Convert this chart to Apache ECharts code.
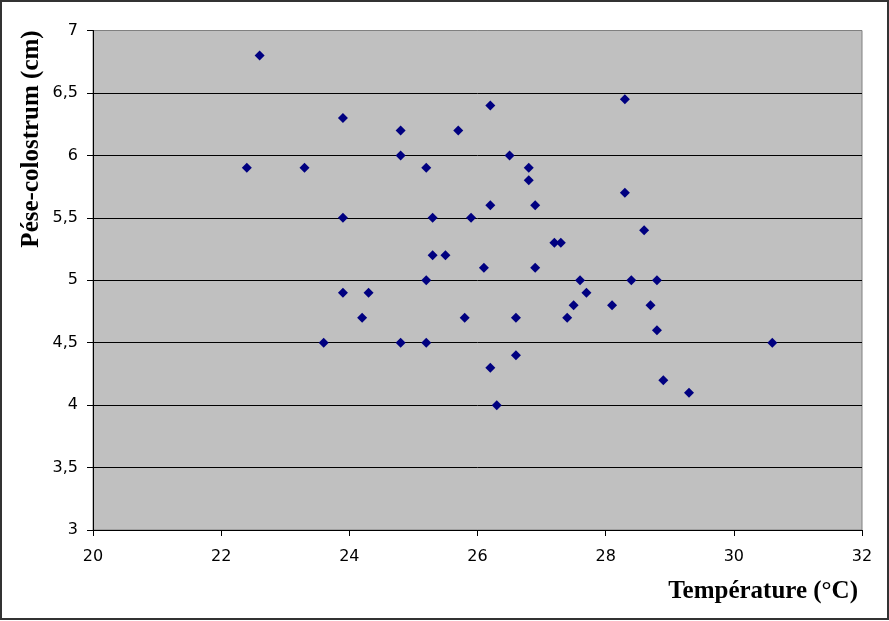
<!DOCTYPE html>
<html>
<head>
<meta charset="utf-8">
<script src="https://cdn.jsdelivr.net/npm/echarts@6/dist/echarts.min.js"></script>
<style>
html,body{margin:0;padding:0;background:#fff;}
#chart{width:889px;height:621px;}
</style>
</head>
<body>
<div id="chart"></div>
<script>
var temperature = [22.6,22.4,23.3,23.9,23.9,23.9,23.6,24.2,24.3,24.8,24.8,24.8,25.2,25.2,25.2,25.3,25.3,25.5,25.7,25.8,25.9,26.1,26.2,26.2,26.2,26.3,26.5,26.6,26.6,26.8,26.8,26.9,26.9,27.2,27.3,27.4,27.5,27.6,27.7,28.1,28.3,28.3,28.4,28.6,28.7,28.8,28.8,28.9,29.3,30.6];
var peseColostrum = [6.8,5.9,5.9,6.3,5.5,4.9,4.5,4.7,4.9,6.2,6.0,4.5,5.9,5.0,4.5,5.5,5.2,5.2,6.2,4.7,5.5,5.1,6.4,5.6,4.3,4.0,6.0,4.7,4.4,5.9,5.8,5.6,5.1,5.3,5.3,4.7,4.8,5.0,4.9,4.8,6.45,5.7,5.0,5.4,4.8,5.0,4.6,4.2,4.1,4.5];
var xTitle = 'Température (°C)';
var yTitle = 'Pése-colostrum (cm)';

var points = temperature.map(function (t, i) { return [t, peseColostrum[i]]; });
var chart = echarts.init(document.getElementById('chart'), null, {renderer: 'canvas'});
var fmt = function (v) { return String(v).replace('.', ','); };
chart.setOption({
  animation: false,
  backgroundColor: '#ffffff',
  grid: {
    left: 93, right: 27, top: 30.5, bottom: 91,
    show: true, backgroundColor: '#C0C0C0', borderColor: '#808080', borderWidth: 1
  },
  xAxis: {
    type: 'value', min: 20, max: 32, interval: 2,
    axisLine: {show: true, onZero: false, lineStyle: {color: '#000', width: 1}},
    axisTick: {show: true, inside: false, length: 6, lineStyle: {color: '#000'}},
    splitLine: {show: false},
    axisLabel: {color: '#000', fontFamily: 'DejaVu Sans', fontSize: 16, margin: 19, formatter: fmt}
  },
  yAxis: {
    type: 'value', min: 3, max: 7, interval: 0.5,
    axisLine: {show: true, onZero: false, lineStyle: {color: '#000', width: 1}},
    axisTick: {show: true, inside: false, length: 6, lineStyle: {color: '#000'}},
    splitLine: {show: true, lineStyle: {color: ['#000','#000','#000','#000','#000','#000','#000','#000','#808080'], width: 1}},
    axisLabel: {color: '#000', fontFamily: 'DejaVu Sans', fontSize: 16, margin: 15, formatter: fmt}
  },
  graphic: [
    {type: 'rect', shape: {x: 1, y: 1, width: 887, height: 618}, style: {fill: 'none', stroke: '#333', lineWidth: 2}, silent: true},
    {type: 'text', x: 858, y: 592, style: {text: xTitle, font: 'bold 25px "Liberation Serif"', fill: '#000', align: 'right', verticalAlign: 'middle'}},
    {type: 'text', x: 32, y: 139, rotation: Math.PI / 2, style: {text: yTitle, font: 'bold 25px "Liberation Serif"', fill: '#000', align: 'center', verticalAlign: 'middle'}}
  ],
  series: [{
    type: 'scatter',
    data: points,
    symbol: 'diamond',
    symbolSize: 10,
    itemStyle: {color: '#000080', opacity: 1},
    z: 5
  }]
});
</script>
</body>
</html>
